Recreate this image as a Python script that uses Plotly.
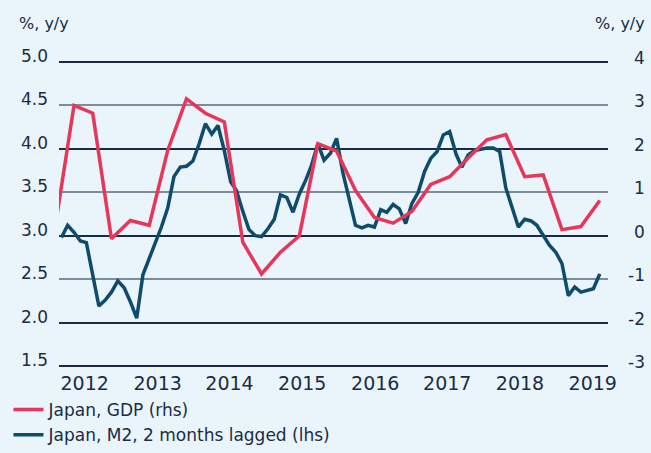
import pandas as pd
import plotly.graph_objects as go

# Japan real GDP, % y/y (quarterly, right axis)
gdp_dates = pd.date_range("2011-10-01", periods=30, freq="QS")
gdp_values = [0.19,
              3.00, 2.82, -0.07, 0.35,
              0.24, 1.97, 3.15, 2.82,
              2.62, -0.15, -0.88, -0.38,
              0.00, 2.12, 1.95, 1.04,
              0.42, 0.29, 0.56, 1.18,
              1.36, 1.79, 2.21, 2.33,
              1.36, 1.40, 0.14, 0.21,
              0.81]

# Japan M2, % y/y, lagged two months (monthly, left axis)
m2_dates = pd.date_range("2011-11-01", periods=87, freq="MS")
m2_values = [2.98, 3.12, 3.04, 2.94, 2.92, 2.55, 2.19, 2.26, 2.35, 2.48,
             2.40, 2.24, 2.05, 2.55, 2.74, 2.93, 3.10, 3.32, 3.68, 3.79,
             3.80, 3.86, 4.06, 4.29, 4.17, 4.27, 3.98, 3.62, 3.52, 3.28,
             3.07, 3.00, 2.99, 3.08, 3.19, 3.47, 3.44, 3.27, 3.48, 3.64,
             3.81, 4.06, 3.87, 3.95, 4.12, 3.72, 3.42, 3.12, 3.09, 3.12,
             3.10, 3.30, 3.27, 3.36, 3.31, 3.14, 3.37, 3.50, 3.74, 3.89,
             3.97, 4.16, 4.20, 3.94, 3.79, 3.93, 3.98, 4.00, 4.01, 4.01,
             3.97, 3.55, 3.31, 3.10, 3.19, 3.17, 3.12, 3.00, 2.89, 2.81,
             2.68, 2.31, 2.41, 2.35, 2.37, 2.39, 2.56]

year_labels = ["2012", "2013", "2014", "2015", "2016", "2017", "2018", "2019"]
year_label_dates = ["2012-02-22", "2013-02-11", "2014-01-26", "2015-01-15",
                    "2016-01-05", "2016-12-20", "2017-12-09", "2018-11-28"]

left_ticks = [1.5, 2.0, 2.5, 3.0, 3.5, 4.0, 4.5, 5.0]
right_ticks = [-3, -2, -1, 0, 1, 2, 3, 4]

BG = "#e9f5fa"
TEXT = "#1d2b45"
RED = "#e6375a"
BLUE = "#0f4c6c"
GRID_DARK = "#1b2a44"
GRID_GREY = "#7d8c9a"
FONT = "DejaVu Sans"

# small padding so the outermost grid lines stay inside the plotting area
LEFT_PAD = 0.023
RIGHT_PAD = 2 * LEFT_PAD

fig = go.Figure()

fig.add_trace(go.Scatter(
    x=m2_dates, y=m2_values, mode="lines", yaxis="y",
    name="Japan, M2, 2 months lagged (lhs)", legendrank=2,
    line=dict(color=BLUE, width=3.5),
))
fig.add_trace(go.Scatter(
    x=gdp_dates, y=gdp_values, mode="lines", yaxis="y2",
    name="Japan, GDP (rhs)", legendrank=1,
    line=dict(color=RED, width=3.5),
))

annotations = [
    dict(text="%, y/y", xref="paper", yref="paper", x=0, y=1, xshift=-42, yshift=37,
         xanchor="left", yanchor="middle", showarrow=False,
         font=dict(family=FONT, size=16, color=TEXT)),
    dict(text="%, y/y", xref="paper", yref="paper", x=1, y=1, xshift=39, yshift=37,
         xanchor="right", yanchor="middle", showarrow=False,
         font=dict(family=FONT, size=16, color=TEXT)),
]
for v in right_ticks:
    annotations.append(dict(
        text=str(v), xref="paper", yref="y2", x=1, y=v, xshift=39, yshift=4,
        xanchor="right", yanchor="middle", showarrow=False,
        font=dict(family=FONT, size=17, color=TEXT)))

fig.update_layout(
    width=651, height=453,
    margin=dict(l=59, r=43, t=60, b=85, autoexpand=False),
    paper_bgcolor=BG, plot_bgcolor=BG,
    font=dict(family=FONT, color=TEXT, size=17),
    showlegend=True,
    legend=dict(x=-0.092, y=-0.276, xanchor="left", yanchor="bottom",
                bgcolor="rgba(0,0,0,0)", font=dict(size=17, color=TEXT),
                tracegroupgap=0, traceorder="normal"),
    xaxis=dict(type="date", range=["2011-10-20", "2019-02-10"],
               tickmode="array", tickvals=year_label_dates, ticktext=year_labels,
               showgrid=False, zeroline=False, showline=False, ticks="",
               tickfont=dict(size=19, color=TEXT), ticklabelstandoff=2),
    yaxis=dict(range=[1.5 - LEFT_PAD, 5.0 + LEFT_PAD], tickmode="array",
               tickvals=left_ticks, ticktext=[f"{v:.1f}" for v in left_ticks],
               showgrid=False, zeroline=False, showline=False, ticks="",
               tickfont=dict(size=17, color=TEXT), ticklabelshift=-6,
               ticklabelstandoff=10,
               minor=dict(tickmode="array", tickvals=[2.5, 3.5, 4.5], showgrid=True,
                          gridcolor=GRID_GREY, gridwidth=2, ticks="")),
    yaxis2=dict(range=[-3 - RIGHT_PAD, 4 + RIGHT_PAD], overlaying="y", side="right",
                tickmode="array", tickvals=[-3, -2, 0, 2, 4],
                showticklabels=False, showgrid=True, gridcolor=GRID_DARK,
                gridwidth=1.5, zeroline=False, showline=False, ticks=""),
    annotations=annotations,
)

fig.write_html("out.html")
